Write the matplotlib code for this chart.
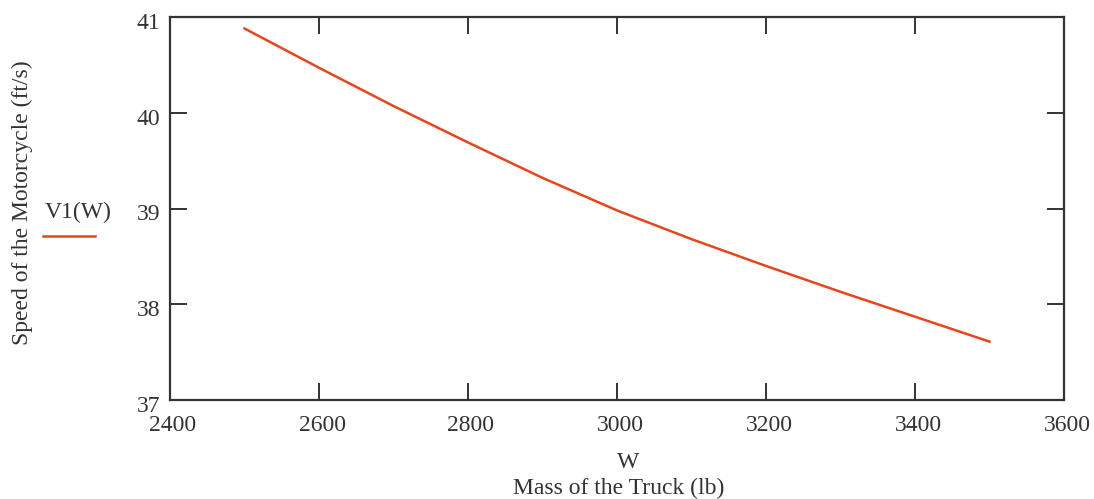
import matplotlib
matplotlib.use("Agg")
import matplotlib.pyplot as plt
import matplotlib.transforms as mtransforms
from matplotlib.lines import Line2D

# ------------------------------
# Data
# ------------------------------
truck_mass = [2500, 2600, 2700, 2800, 2900, 3000, 3100, 3200, 3300, 3400, 3500]
moto_speed = [40.88, 40.47, 40.07, 39.69, 39.32, 38.98, 38.68, 38.40, 38.13, 37.87, 37.61]

x_ticks = [2400, 2600, 2800, 3000, 3200, 3400, 3600]
y_ticks = [37, 38, 39, 40, 41]

line_color = "#e4471c"
ink = "#333333"
fs = 17

plt.rcParams["font.family"] = ["Liberation Serif", "DejaVu Serif"]

# ------------------------------
# Figure
# ------------------------------
fig = plt.figure(figsize=(10.94, 4.99), dpi=100)
ax = fig.add_axes([170 / 1094, 1 - 400 / 499, (1064 - 170) / 1094, (400 - 17) / 499])

ax.plot(truck_mass, moto_speed, color=line_color, linewidth=1.8)

ax.set_xlim(2400, 3600)
ax.set_ylim(37, 41)
ax.set_xticks(x_ticks)
ax.set_yticks(y_ticks)

for s in ax.spines.values():
    s.set_linewidth(1.6)
    s.set_color(ink)

ax.tick_params(direction="in", length=12, width=1.4, color=ink,
               labelsize=fs, labelcolor=ink,
               top=True, right=True)
ax.tick_params(axis="x", pad=11)
ax.tick_params(axis="y", pad=7)

# small nudge of tick labels like the original (y a bit low, x a bit right)
dy = mtransforms.ScaledTranslation(0, -4 / 100, fig.dpi_scale_trans)
dx = mtransforms.ScaledTranslation(3 / 100, 0, fig.dpi_scale_trans)
for lab in ax.get_yticklabels():
    lab.set_transform(lab.get_transform() + dy)
for lab in ax.get_xticklabels():
    lab.set_transform(lab.get_transform() + dx)

# axis titles
fig.text(628 / 1094, 1 - 463 / 499, "W", ha="center", va="center",
         fontsize=fs, color=ink)
fig.text(619 / 1094, 1 - 488 / 499, "Mass of the Truck (lb)", ha="center",
         va="center", fontsize=fs, color=ink)
fig.text(22 / 1094, 1 - 203 / 499, "Speed of the Motorcycle (ft/s)",
         rotation=90, ha="center", va="center", fontsize=fs, color=ink)

# legend (Mathcad style: name above the line sample)
fig.text(78 / 1094, 1 - 212 / 499, "V1(W)", ha="center", va="center",
         fontsize=fs, color=ink)
fig.add_artist(Line2D([43 / 1094, 95 / 1094], [1 - 236 / 499, 1 - 236 / 499],
                      transform=fig.transFigure, color=line_color, linewidth=1.8))

fig.savefig("out.png", dpi=100, facecolor="white")
plt.close(fig)
